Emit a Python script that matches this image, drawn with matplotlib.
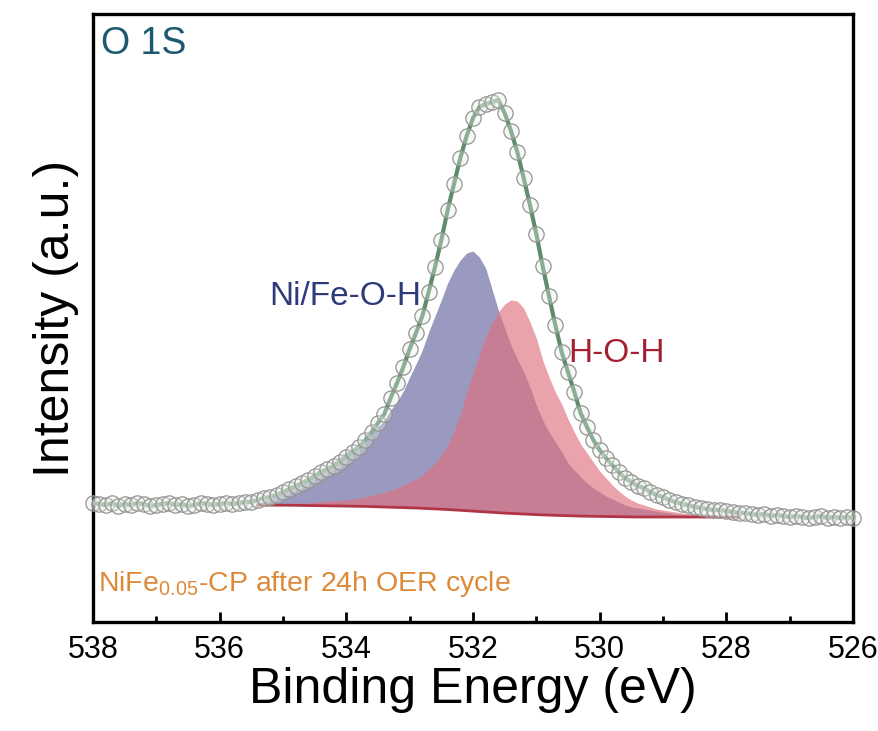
import numpy as np
import matplotlib
matplotlib.use("Agg")
import matplotlib.pyplot as plt

plt.rcParams['font.family'] = ['Liberation Sans', 'DejaVu Sans']
plt.rcParams['mathtext.fontset'] = 'custom'
plt.rcParams['mathtext.rm'] = 'Liberation Sans'

# measured O 1s spectrum, 538 -> 526 eV in 0.1 eV steps (a.u.)
energy = np.linspace(538.0, 526.0, 121)
counts = [119, 118, 117, 119, 116, 118, 117, 119, 118, 116, 117, 118, 119, 117, 118,
          116, 117, 119, 118, 117, 118, 119, 118, 119, 120,
          120, 122, 124, 125, 127, 130, 133, 136, 139, 142, 146, 150, 153, 156, 160,
          165, 170, 175, 182, 190, 199, 208, 224, 239, 255, 273, 289, 306, 330, 355,
          382, 412, 438, 464, 486, 504, 515, 518, 520, 522, 509, 491, 470, 444, 417,
          388, 356, 326, 297, 270, 250, 230, 209, 195, 182, 172, 164, 157, 150, 144,
          140, 136, 134, 130, 127, 125, 122, 120, 118, 117, 115, 114, 113, 112, 112,
          111, 110, 109, 109, 108, 107, 108, 106, 107, 106, 105, 106, 105, 104, 105,
          106, 104, 105, 104, 105, 104]

# fitted components, 535.4 -> 527.8 eV
fit_energy = np.linspace(535.4, 527.8, 77)
background = [117.0, 116.95, 116.9, 116.85, 116.8, 116.75, 116.7, 116.6, 116.5, 116.4,
              116.3, 116.2, 116.1, 116.0, 115.9, 115.8, 115.7, 115.6, 115.4, 115.2,
              115.0, 114.8, 114.6, 114.4, 114.2, 114.0, 113.7, 113.4, 113.1, 112.8,
              112.5, 112.1, 111.7, 111.3, 110.9, 110.5, 110.1, 109.7, 109.3, 108.9,
              108.6, 108.3, 108.0, 107.7, 107.4, 107.1, 106.9, 106.7, 106.5, 106.3,
              106.1, 105.9, 105.8, 105.7, 105.6, 105.5, 105.4, 105.3, 105.2, 105.1,
              105.0, 105.0, 105.0, 105.0, 105.0, 105.0, 105.0, 105.0, 105.0, 105.0,
              105.0, 105.0, 105.0, 105.0, 105.0, 105.0, 105.0]
nife_oh = [119, 121, 124, 127, 130, 133, 137, 140, 143, 147, 151, 155, 160, 165, 170,
           174, 179, 185, 190, 195, 202, 212, 220, 231, 245, 258, 272, 290, 306, 322,
           339, 352, 362, 369, 371, 365, 354, 333, 312, 294, 277, 263, 250, 235, 217,
           202, 190, 180, 170, 159, 152, 145, 139, 134, 130, 126, 123, 120, 117, 115,
           114, 113, 112, 111, 110, 109, 108, 107.5, 107, 106.5, 106, 105.8,
           105.6, 105.4, 105.2, 105.1, 105]
h2o = [117, 117, 117, 118, 118, 118, 119, 119, 119, 120, 120, 121, 121, 122, 122,
       123, 124, 125, 127, 128, 130, 132, 134, 137, 140, 143, 147, 153, 159, 167,
       177, 191, 208, 229, 249, 267, 285, 299, 310, 318, 322, 321, 314, 300, 284,
       262, 245, 230, 218, 203, 190, 178, 169, 160, 151, 144, 137, 131, 126, 122,
       119, 117, 115, 113, 112, 111, 110, 109, 108.5, 108, 107.5, 107, 106.5, 106,
       105.5, 105.2, 105]

fig = plt.figure(figsize=(8.79, 7.31), dpi=100)
ax = fig.add_axes([0.1058, 0.1491, 0.8646, 0.8317])

ax.fill_between(fit_energy, background, nife_oh, color='#9a9ac0', lw=0, zorder=1)
ax.fill_between(fit_energy, background, h2o, color='#e0707f', alpha=0.65, lw=0, zorder=2)
ax.plot(fit_energy, background, color='#b03545', lw=2, zorder=3)

ax.plot(energy, counts, color='#5e8c6c', lw=3, zorder=4)
ax.plot(energy, counts, ls='none', marker='o', ms=11, mew=0.9,
        mfc=(0.9, 0.94, 0.9, 0.35), mec='#949494', zorder=5, clip_on=False)

ax.set_xlim(538, 526)
ax.set_ylim(0, 608)
ax.set_xticks(np.arange(538, 525, -2))
ax.set_xticks(np.arange(537, 526, -2), minor=True)
ax.set_yticks([])
ax.tick_params(axis='x', which='major', direction='in', length=7, width=2,
               labelsize=22, pad=9, top=False)
ax.tick_params(axis='x', which='minor', direction='in', length=4, width=2, top=False)
for s in ax.spines.values():
    s.set_linewidth(2.4)

ax.set_xlabel('Binding Energy (eV)', fontsize=36, labelpad=2)
ax.set_ylabel('Intensity (a.u.)', fontsize=36, labelpad=10)

ax.text(0.01, 0.95, 'O 1S', transform=ax.transAxes, fontsize=27, color='#1d5a72',
        va='center', ha='left')
ax.text(534.02, 326, 'Ni/Fe-O-H', fontsize=24, color='#2e3a7a', ha='center', va='center')
ax.text(529.73, 269, 'H-O-H', fontsize=24, color='#a3202e', ha='center', va='center')
ax.text(0.006, 0.062, r'NiFe$_{\mathregular{0.05}}$-CP after 24h OER cycle',
        transform=ax.transAxes, fontsize=20.5, color='#dc8a3a', va='center', ha='left')

fig.savefig('out.png', dpi=100)
